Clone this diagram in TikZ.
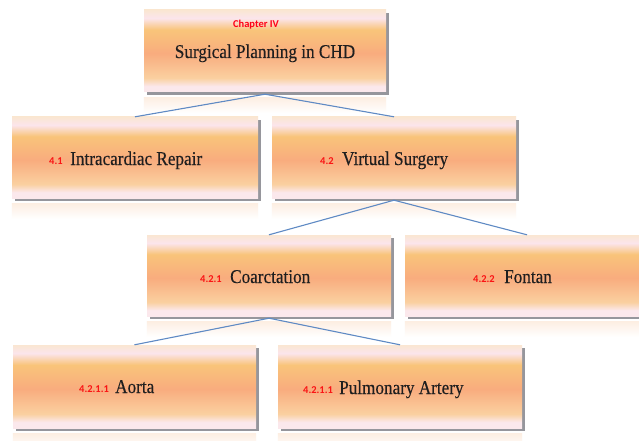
\documentclass[tikz,border=0pt]{standalone}
\usepackage{fontspec}
\usetikzlibrary{shadows}
\newfontfamily\headfont[FakeStretch=0.88,FakeBold=0.35]{Liberation Serif}
\newfontfamily\numfont[BoldFont={Carlito Bold}]{Carlito}

\definecolor{bxA}{RGB}{251,232,236}
\definecolor{bxB}{RGB}{250,208,160}
\definecolor{bxC}{RGB}{249,172,126}
\definecolor{bxD}{RGB}{249,196,122}
\definecolor{bxE}{RGB}{251,229,236}
\definecolor{bxF}{RGB}{250,230,210}
\definecolor{reflc}{RGB}{253,238,226}
\definecolor{shadowc}{RGB}{150,150,156}
\definecolor{linkc}{RGB}{95,138,196}
\definecolor{numc}{RGB}{250,20,20}

% bottom-to-top colour bands of each box (the box spans 25bp..75bp)
\pgfdeclareverticalshading{boxshade}{100bp}{%
  color(0bp)=(bxA); color(25bp)=(bxA); color(28.5bp)=(bxA); color(33.5bp)=(bxB);
  color(48.5bp)=(bxC); color(63bp)=(bxD); color(70bp)=(bxE); color(75bp)=(bxF);
  color(100bp)=(bxF)}

\tikzset{
  chartbox/.style={shading=boxshade, draw=none, inner sep=0pt,
    minimum width=244pt, minimum height=81pt,
    drop shadow={shadow xshift=2.5pt, shadow yshift=-3pt, fill=shadowc, opacity=1}},
  reflect/.style={top color=reflc, bottom color=white, draw=none},
  link/.style={draw=linkc, line width=1.1pt},
  title/.style={font=\headfont\fontsize{19.5}{22}\selectfont, text=black!88,
    inner sep=0pt, anchor=base west},
  num/.style={font=\numfont\bfseries\fontsize{10.5}{12}\selectfont, text=numc,
    inner sep=0pt, anchor=base west}
}

\begin{document}
\begin{tikzpicture}[x=1pt, y=-1pt]
\useasboundingbox[fill=white] (0,0) rectangle (639,441);

% boxes
\node[chartbox, minimum width=242pt, minimum height=82pt] (top) at (265,51) {};
\node[chartbox, minimum width=246pt] (b41) at (135,157.5) {};
\node[chartbox] (b42) at (394,157.5) {};
\node[chartbox] (b421) at (269,275.5) {};
\node[chartbox] (b422) at (527,275.5) {};
\node[chartbox, minimum width=243pt, minimum height=83pt] (b4211) at (134.5,386.5) {};
\node[chartbox, minimum height=83pt] (b4212) at (400,386.5) {};

% faint reflections under the boxes
\foreach \b in {top,b41,b42,b421,b422,b4211,b4212}
  \fill[reflect] ([yshift=-5pt]\b.south west) rectangle ([yshift=-21pt]\b.south east);

% connectors
\draw[link] ([yshift=-2pt]top.south) -- (b41.north);
\draw[link] ([yshift=-2pt]top.south) -- (b42.north);
\draw[link] ([yshift=-2pt]b42.south) -- (b421.north);
\draw[link] ([yshift=-2pt]b42.south) -- (b422.north);
\draw[link] ([yshift=-2pt]b421.south) -- (b4211.north);
\draw[link] ([yshift=-2pt]b421.south) -- (b4212.north);

% texts
\node[num, anchor=base, text=red!90!magenta] (chap) at (256,28) {Chapter IV};
\node[title, anchor=base] (ttop) at (265,58) {Surgical Planning in CHD};

\node[num] (n41) at (49,164) {4.1};
\node[title] (t41) at (70,165) {Intracardiac Repair};

\node[num] (n42) at (320,164) {4.2};
\node[title] (t42) at (342,165) {Virtual Surgery};

\node[num] (n421) at (200,282) {4.2.1};
\node[title] (t421) at (230,283) {Coarctation};

\node[num] (n422) at (473,282) {4.2.2};
\node[title] (t422) at (504,283) {Fontan};

\node[num] (n4211) at (79,392) {4.2.1.1};
\node[title] (t4211) at (115,393) {Aorta};

\node[num] (n4212) at (303,393) {4.2.1.1};
\node[title] (t4212) at (339,394) {Pulmonary Artery};
\end{tikzpicture}
\end{document}
